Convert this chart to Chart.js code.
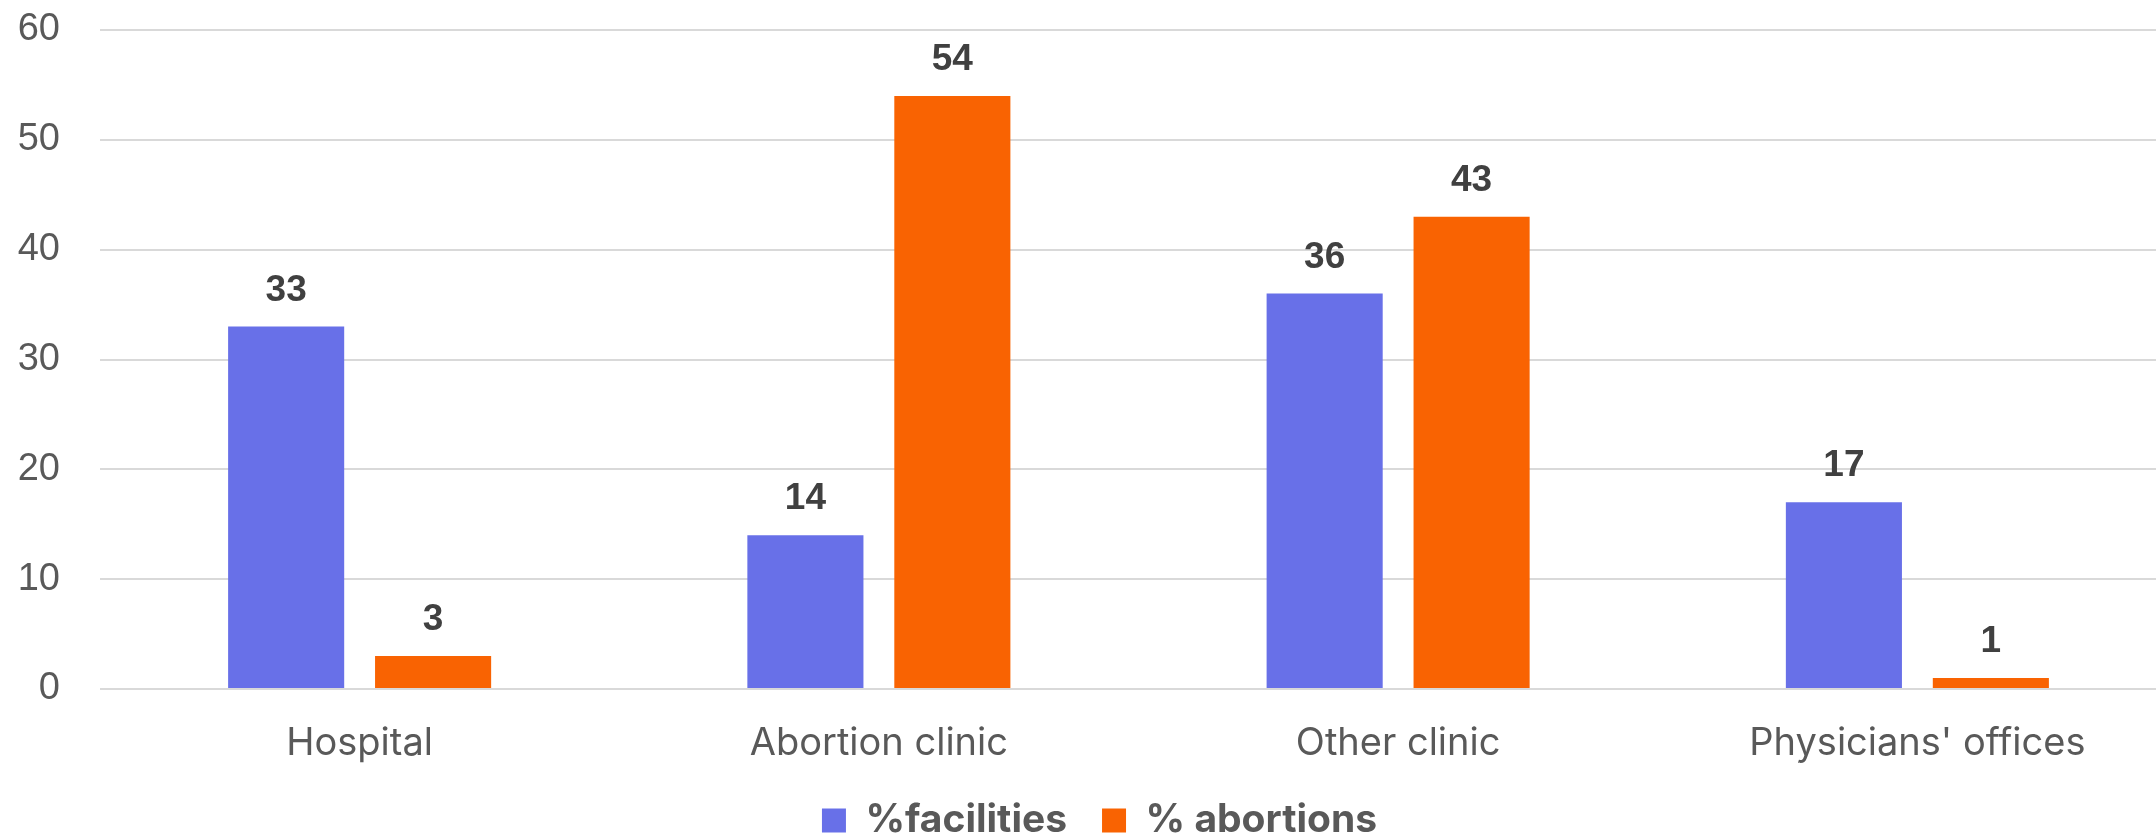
<!DOCTYPE html>
<html>
<head>
<meta charset="utf-8">
<script src="https://cdn.jsdelivr.net/npm/chart.js@4/dist/chart.umd.min.js"></script>
<style>
  html, body { margin: 0; padding: 0; background: #fff; overflow: hidden; }
  #wrap { position: relative; width: 2180px; height: 850px; }
</style>
</head>
<body>
<div id="wrap"><canvas id="chart"></canvas></div>
<script>
// data
var categories = ["Hospital", "Abortion clinic", "Other clinic", "Physicians' offices"];
var facilities = [33, 14, 36, 17];
var abortions = [3, 54, 43, 1];
var yTicks = [0, 10, 20, 30, 40, 50, 60];

// value labels above the bars
var barLabels = {
  id: 'barLabels',
  afterLayout: function(chart) {
    // nudge legend a bit to the right, like the original
    chart.legend.left += 11;
    chart.legend.right += 11;
  },
  afterDatasetsDraw: function(chart) {
    var ctx = chart.ctx;
    ctx.save();
    ctx.font = 'bold 37px "Liberation Sans", Arial, sans-serif';
    ctx.fillStyle = '#404040';
    ctx.textAlign = 'center';
    ctx.textBaseline = 'middle';
    chart.data.datasets.forEach(function(ds, i) {
      chart.getDatasetMeta(i).data.forEach(function(bar, j) {
        ctx.fillText(ds.data[j], bar.x, bar.y - 36);
      });
    });
    ctx.restore();
  }
};

new Chart(document.getElementById('chart'), {
  type: 'bar',
  data: {
    labels: categories,
    datasets: [
      { label: '%facilities', data: facilities, backgroundColor: '#6870E8' },
      { label: '% abortions', data: abortions, backgroundColor: '#F96302' }
    ]
  },
  options: {
    responsive: true,
    maintainAspectRatio: false,
    animation: false,
    layout: { padding: { top: 30, left: 0, right: 3, bottom: 0 } },
    datasets: { bar: { categoryPercentage: 0.566, barPercentage: 0.79 } },
    scales: {
      x: {
        grid: { display: false },
        border: { display: false },
        ticks: {
          color: '#595959',
          font: { family: 'Inter, "Liberation Sans", sans-serif', size: 38 },
          padding: 24
        },
        afterFit: function(s) { s.height = 77; }
      },
      y: {
        min: 0,
        max: 60,
        afterBuildTicks: function(s) { s.ticks = yTicks.map(function(v) { return { value: v }; }); },
        grid: { color: '#d9d9d9', lineWidth: 2, drawTicks: false },
        border: { display: false },
        ticks: {
          color: '#595959',
          font: { family: '"Liberation Sans", Arial, sans-serif', size: 38 },
          padding: 40
        },
        afterFit: function(s) { s.width = 100; s.paddingTop = 0; s.paddingBottom = 0; }
      }
    },
    plugins: {
      legend: {
        position: 'bottom',
        labels: {
          boxWidth: 24,
          boxHeight: 24,
          padding: 35,
          color: '#595959',
          font: { family: 'Inter, "Liberation Sans", sans-serif', size: 39, weight: 'bold' }
        }
      },
      tooltip: { enabled: false }
    }
  },
  plugins: [barLabels]
});
</script>
</body>
</html>
